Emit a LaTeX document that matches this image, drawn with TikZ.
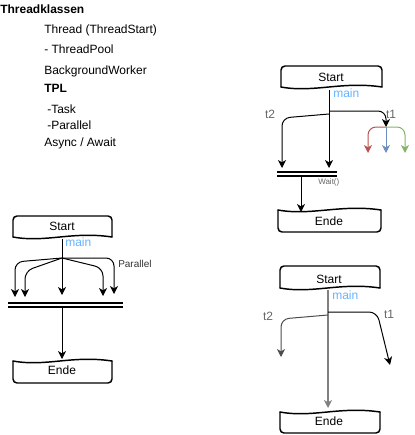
\documentclass[tikz,border=0pt]{standalone}
\usepackage{fontspec}
\setmainfont{Liberation Sans}
\usetikzlibrary{arrows.meta}
\definecolor{mainblue}{HTML}{66B2FF}
\definecolor{lblgray}{HTML}{666666}
\definecolor{linegray}{HTML}{808080}
\definecolor{dkred}{HTML}{B85450}
\definecolor{dkblue}{HTML}{6C8EBF}
\definecolor{dkgreen}{HTML}{82B366}
\newcommand{\mystartshape}[4]{% x1 x2 ytop ybot
  \draw[boxline, rounded corners=3pt] (#1,#4) -- (#1,#3) -- (#2,#3) -- (#2,#4);
  \draw[boxline] (#1,#4) .. controls ({#1+33},{#4+6}) and ({#2-40},{#4-6}) .. (#2,#4);}
\newcommand{\myfinishshape}[4]{% x1 x2 ytop ybot
  \draw[boxline, rounded corners=3pt] (#1,#3) -- (#1,#4) -- (#2,#4) -- (#2,#3);
  \draw[boxline] (#1,#3) .. controls ({#1+33},{#3+6}) and ({#2-40},{#3-6}) .. (#2,#3);}
\begin{document}
\begin{tikzpicture}[x=0.75pt,y=-0.75pt,
  boxline/.style={line width=1.1pt, line cap=round, line join=round},
  conn/.style={line width=0.75pt, rounded corners=6pt, -{Stealth[length=6pt,width=6pt,inset=1.8pt]}},
  dbl/.style={line width=0.9pt},
  txt/.style={font=\fontsize{9}{10}\selectfont, inner sep=0pt, text height=6.5pt, text depth=1pt},
  listitem/.style={txt, anchor=west},
  boxtext/.style={txt, anchor=center},
  mainlbl/.style={txt, anchor=west, text=mainblue},
  tlbl/.style={txt, text=lblgray},
  smalllbl/.style={font=\fontsize{6}{7}\selectfont, inner sep=0pt, text=lblgray, anchor=west},
  parlbl/.style={font=\fontsize{7.5}{8.5}\selectfont, inner sep=0pt, text=black!80, anchor=west}]
\useasboundingbox (0,0) rectangle (414,435);

% ---------- list ----------
\node[listitem, font=\fontsize{9}{10}\selectfont\bfseries] (h) at (0,10) {Threadklassen};
\node[listitem] (l1) at (44,30) {Thread (ThreadStart)};
\node[listitem] (l2) at (44,50) {- ThreadPool};
\node[listitem] (l3) at (44,71) {BackgroundWorker};
\node[listitem, font=\fontsize{9}{10}\selectfont\bfseries] (l4) at (44,89) {TPL};
\node[listitem] (l5) at (47,110) {-Task};
\node[listitem] (l6) at (47,126) {-Parallel};
\node[listitem] (l7) at (44,143) {Async / Await};

% ---------- top right diagram ----------
\mystartshape{281}{382}{66}{87}
\node[boxtext] (s1) at (331,78) {Start};
\node[mainlbl] (m1) at (333,94) {main};
\node[tlbl] (t2a) at (270,115) {t2};
\node[tlbl] (t1a) at (391,115) {t1};
\coordinate (s1b) at (329,90);
\coordinate (s1m) at (329,168);
\coordinate (s1br) at (329,111);
\coordinate (s1bl) at (329,114);
\coordinate (s1t1) at (386,127);
\coordinate (s1t2) at (282,168);
\draw[conn] (s1b) -- (s1m);
\draw[conn] (s1br) -| (s1t1);
\draw[conn] (s1bl) -- (282,118) -- (s1t2);
\coordinate (sp) at (386,127);
\coordinate (rend) at (368,153);
\coordinate (bend) at (386,153);
\coordinate (gend) at (405,153);
\draw[conn, draw=dkred, -{Stealth[length=6pt,width=6pt,inset=1.8pt,fill=dkred]}] (sp) -| (rend);
\draw[conn, draw=dkblue, -{Stealth[length=6pt,width=6pt,inset=1.8pt,fill=dkblue]}] (sp) -- (bend);
\draw[conn, draw=dkgreen, -{Stealth[length=6pt,width=6pt,inset=1.8pt,fill=dkgreen]}] (sp) -| (gend);
\coordinate (j1a) at (277,172); \coordinate (j1b) at (337,172);
\coordinate (j1c) at (277,176); \coordinate (j1d) at (337,176);
\draw[dbl] (j1a) -- (j1b);
\draw[dbl] (j1c) -- (j1d);
\node[smalllbl] (w) at (318,182) {Wait()};
\coordinate (j1o) at (301,176);
\coordinate (e1t) at (301,212);
\draw[conn] (j1o) -- (e1t);
\myfinishshape{278}{381}{210}{232}
\node[boxtext] (e1) at (329,222) {Ende};

% ---------- bottom left diagram ----------
\mystartshape{13}{112}{216}{237}
\node[boxtext] (s2) at (62,227) {Start};
\node[mainlbl] (m2) at (65,243) {main};
\node[parlbl] (par) at (118,264) {Parallel};
\coordinate (s2b) at (62,239);
\coordinate (bp) at (62,258);
\coordinate (a1) at (15,297);
\coordinate (a2) at (25,297);
\coordinate (a3) at (62,295);
\coordinate (a4) at (103,296);
\coordinate (a5) at (114,294);
\draw[conn] (s2b) -- (a3);
\draw[conn] (bp) -- (15,262) -- (a1);
\draw[conn] (bp) -- (25,271) -- (a2);
\draw[conn] (bp) -- (103,268) -- (a4);
\draw[conn] (bp) -- (114,258) -- (a5);
\coordinate (j2a) at (8,303); \coordinate (j2b) at (123,303);
\coordinate (j2c) at (8,307); \coordinate (j2d) at (123,307);
\draw[dbl] (j2a) -- (j2b);
\draw[dbl] (j2c) -- (j2d);
\coordinate (j2o) at (62,307);
\coordinate (e2t) at (62,359);
\draw[conn] (j2o) -- (e2t);
\myfinishshape{13}{112}{361}{383}
\node[boxtext] (e2) at (62,371) {Ende};

% ---------- bottom right diagram ----------
\mystartshape{280}{380}{266}{288}
\node[boxtext] (s3) at (329,280) {Start};
\node[mainlbl] (m3) at (332,296) {main};
\node[tlbl] (t2b) at (268,317) {t2};
\node[tlbl] (t1b) at (389,315) {t1};
\coordinate (s3b) at (328,290);
\coordinate (s3m) at (328,408);
\coordinate (s3r) at (328,312);
\coordinate (s3l) at (328,315);
\coordinate (t1e) at (390,365);
\coordinate (t2e) at (281,357);
\draw[conn, draw=linegray, line width=1.3pt, -{Stealth[length=6pt,width=6pt,inset=1.8pt,fill=black!80]}] (s3b) -- (s3m);
\draw[conn] (s3r) -- (377,312) -- (t1e);
\draw[conn, draw=black!70] (s3l) -- (281,319) -- (t2e);
\myfinishshape{280}{380}{412}{433}
\node[boxtext] (e3) at (329,422) {Ende};
\end{tikzpicture}
\end{document}
